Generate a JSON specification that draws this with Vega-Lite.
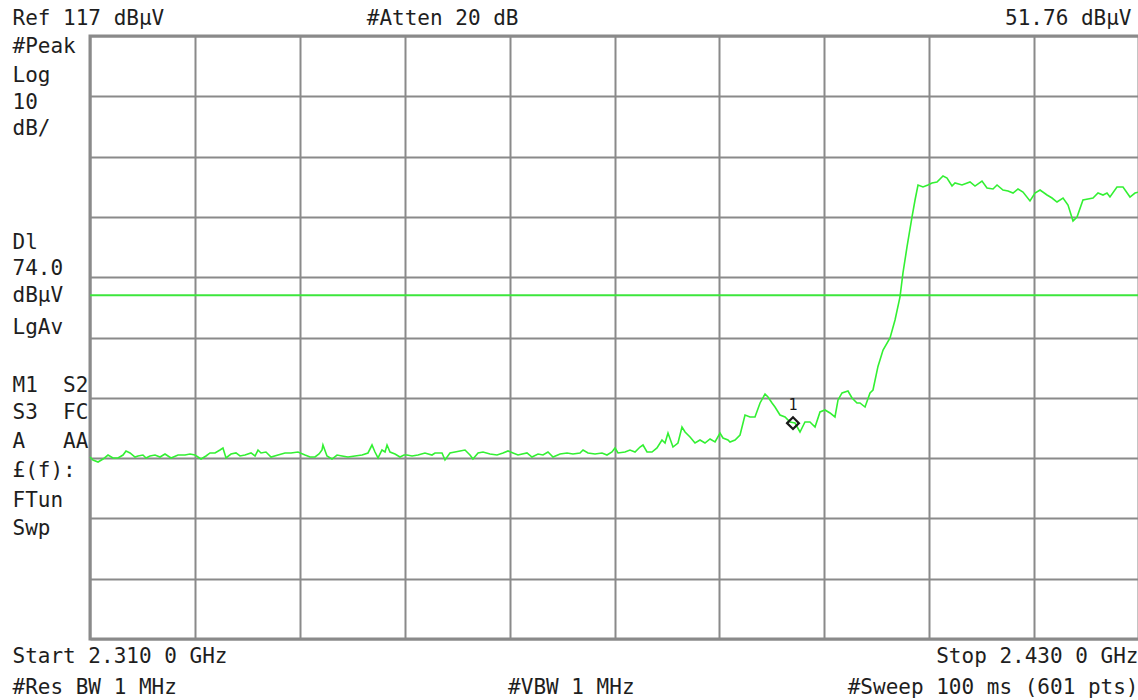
{
  "$schema": "https://vega.github.io/schema/vega-lite/v6.json",
  "width": 1049,
  "height": 603,
  "autosize": {"type": "none"},
  "padding": {"left": 90, "top": 36, "right": 0, "bottom": 61},
  "background": "white",
  "config": {
    "view": {"stroke": "#8a8a8a", "strokeWidth": 3},
    "axis": {"labelFont": "DejaVu Sans Mono", "labelFontSize": 21, "labelColor": "#1e1e1e", "labelLimit": 600}
  },
  "datasets": {
    "trace": [
      {"freq":2310.00,"level":47.18},{"freq":2310.34,"level":46.69},{"freq":2310.92,"level":46.35},{"freq":2311.49,"level":46.85},
      {"freq":2312.06,"level":47.51},{"freq":2312.63,"level":47.02},{"freq":2313.20,"level":47.02},{"freq":2313.78,"level":47.51},
      {"freq":2314.12,"level":48.18},{"freq":2314.58,"level":47.85},{"freq":2315.15,"level":47.18},{"freq":2315.49,"level":47.35},
      {"freq":2316.06,"level":47.51},{"freq":2316.41,"level":47.02},{"freq":2316.86,"level":47.35},{"freq":2317.44,"level":47.51},
      {"freq":2318.01,"level":47.18},{"freq":2318.58,"level":47.68},{"freq":2319.27,"level":47.02},{"freq":2320.07,"level":47.51},
      {"freq":2320.87,"level":47.51},{"freq":2321.44,"level":47.68},{"freq":2322.01,"level":47.51},{"freq":2322.70,"level":46.85},
      {"freq":2323.27,"level":47.35},{"freq":2323.73,"level":47.85},{"freq":2324.30,"level":47.85},{"freq":2324.87,"level":48.34},
      {"freq":2325.21,"level":48.68},{"freq":2325.56,"level":47.02},{"freq":2326.13,"level":47.68},{"freq":2326.70,"level":47.85},
      {"freq":2327.16,"level":47.35},{"freq":2327.73,"level":47.51},{"freq":2328.42,"level":47.85},{"freq":2328.88,"level":47.35},
      {"freq":2329.22,"level":48.34},{"freq":2329.56,"level":47.85},{"freq":2330.13,"level":48.01},{"freq":2330.71,"level":47.18},
      {"freq":2331.51,"level":47.51},{"freq":2332.31,"level":47.85},{"freq":2332.99,"level":47.85},{"freq":2333.79,"level":48.01},
      {"freq":2334.60,"level":47.51},{"freq":2335.17,"level":47.18},{"freq":2335.74,"level":47.18},{"freq":2336.20,"level":47.68},
      {"freq":2336.54,"level":48.34},{"freq":2336.65,"level":49.17},{"freq":2337.11,"level":47.35},{"freq":2337.68,"level":46.85},
      {"freq":2338.26,"level":47.51},{"freq":2338.83,"level":47.35},{"freq":2339.51,"level":47.18},{"freq":2340.31,"level":47.35},
      {"freq":2341.12,"level":47.51},{"freq":2341.80,"level":47.85},{"freq":2342.26,"level":49.17},{"freq":2342.60,"level":48.01},
      {"freq":2342.95,"level":47.02},{"freq":2343.40,"level":48.34},{"freq":2343.75,"level":48.01},{"freq":2343.98,"level":49.17},
      {"freq":2344.32,"level":48.01},{"freq":2344.89,"level":47.68},{"freq":2345.46,"level":47.18},{"freq":2345.92,"level":47.51},
      {"freq":2346.26,"level":47.51},{"freq":2346.84,"level":47.35},{"freq":2347.52,"level":47.51},{"freq":2348.32,"level":47.85},
      {"freq":2349.12,"level":47.51},{"freq":2349.47,"level":47.85},{"freq":2350.27,"level":47.85},{"freq":2350.61,"level":46.69},
      {"freq":2351.18,"level":47.85},{"freq":2351.75,"level":48.01},{"freq":2352.33,"level":48.18},{"freq":2352.90,"level":48.34},
      {"freq":2353.47,"level":47.51},{"freq":2353.81,"level":46.85},{"freq":2354.39,"level":47.85},{"freq":2354.96,"level":48.01},
      {"freq":2355.76,"level":47.68},{"freq":2356.56,"level":47.51},{"freq":2357.25,"level":47.85},{"freq":2357.82,"level":48.18},
      {"freq":2358.39,"level":47.85},{"freq":2358.96,"level":47.51},{"freq":2359.99,"level":47.85},{"freq":2360.56,"level":47.18},
      {"freq":2361.25,"level":47.68},{"freq":2361.82,"level":47.51},{"freq":2362.39,"level":48.01},{"freq":2362.97,"level":47.18},
      {"freq":2363.77,"level":47.68},{"freq":2364.57,"level":47.85},{"freq":2365.25,"level":47.68},{"freq":2366.05,"level":47.85},
      {"freq":2366.40,"level":48.34},{"freq":2366.97,"level":47.85},{"freq":2367.77,"level":47.68},{"freq":2368.57,"level":47.85},
      {"freq":2369.14,"level":47.51},{"freq":2369.71,"level":48.01},{"freq":2370.06,"level":48.68},{"freq":2370.40,"level":47.85},
      {"freq":2371.20,"level":48.01},{"freq":2371.77,"level":48.34},{"freq":2372.35,"level":48.01},{"freq":2372.92,"level":48.84},
      {"freq":2373.26,"level":49.17},{"freq":2373.72,"level":48.01},{"freq":2374.29,"level":48.01},{"freq":2374.86,"level":48.68},
      {"freq":2375.43,"level":50.00},{"freq":2375.78,"level":49.50},{"freq":2376.12,"level":51.16},{"freq":2376.69,"level":48.84},
      {"freq":2377.26,"level":49.50},{"freq":2377.72,"level":52.16},{"freq":2378.07,"level":51.33},{"freq":2378.64,"level":50.50},
      {"freq":2379.21,"level":49.50},{"freq":2379.78,"level":50.00},{"freq":2380.35,"level":49.50},{"freq":2380.93,"level":50.17},
      {"freq":2381.50,"level":49.67},{"freq":2382.07,"level":51.16},{"freq":2382.41,"level":50.33},{"freq":2382.98,"level":50.00},
      {"freq":2383.21,"level":49.67},{"freq":2383.79,"level":50.00},{"freq":2384.36,"level":50.83},{"freq":2384.93,"level":54.15},
      {"freq":2385.50,"level":53.82},{"freq":2386.07,"level":53.82},{"freq":2386.65,"level":56.14},{"freq":2387.22,"level":57.63},
      {"freq":2387.56,"level":57.13},{"freq":2388.02,"level":56.14},{"freq":2388.36,"level":55.47},{"freq":2388.93,"level":54.15},
      {"freq":2389.51,"level":53.82},{"freq":2390.08,"level":52.99},{"freq":2390.65,"level":52.82},{"freq":2391.22,"level":51.33},
      {"freq":2391.79,"level":52.99},{"freq":2392.36,"level":52.99},{"freq":2392.94,"level":52.16},{"freq":2393.51,"level":54.65},
      {"freq":2394.08,"level":54.98},{"freq":2394.65,"level":54.48},{"freq":2395.22,"level":53.82},{"freq":2395.57,"level":56.64},
      {"freq":2396.03,"level":57.80},{"freq":2396.71,"level":58.13},{"freq":2397.17,"level":56.97},{"freq":2397.74,"level":56.14},
      {"freq":2398.08,"level":56.14},{"freq":2398.66,"level":55.47},{"freq":2399.23,"level":57.80},{"freq":2399.57,"level":58.29},
      {"freq":2400.14,"level":62.20},{"freq":2400.72,"level":64.93},{"freq":2401.52,"level":66.92},{"freq":2402.09,"level":69.90},
      {"freq":2402.66,"level":73.72},{"freq":2403.00,"level":77.70},{"freq":2403.46,"level":82.01},{"freq":2404.03,"level":86.98},
      {"freq":2404.38,"level":89.80},{"freq":2404.72,"level":92.29},{"freq":2405.29,"level":91.96},{"freq":2405.86,"level":92.29},
      {"freq":2406.32,"level":92.62},{"freq":2406.89,"level":92.79},{"freq":2407.58,"level":93.78},{"freq":2408.04,"level":93.45},
      {"freq":2408.61,"level":92.12},{"freq":2408.95,"level":92.62},{"freq":2409.75,"level":92.29},{"freq":2410.67,"level":92.79},
      {"freq":2411.24,"level":92.12},{"freq":2412.04,"level":92.95},{"freq":2412.61,"level":91.79},{"freq":2413.30,"level":91.63},
      {"freq":2413.76,"level":92.29},{"freq":2414.44,"level":91.46},{"freq":2415.02,"level":91.30},{"freq":2415.59,"level":90.96},
      {"freq":2416.16,"level":91.63},{"freq":2416.73,"level":91.13},{"freq":2417.53,"level":89.64},{"freq":2418.10,"level":90.96},
      {"freq":2418.68,"level":91.46},{"freq":2419.48,"level":90.63},{"freq":2420.05,"level":90.13},{"freq":2420.62,"level":89.47},
      {"freq":2421.31,"level":90.13},{"freq":2421.88,"level":88.97},{"freq":2422.45,"level":86.32},{"freq":2422.91,"level":86.98},
      {"freq":2423.59,"level":89.80},{"freq":2424.17,"level":89.97},{"freq":2424.74,"level":90.13},{"freq":2425.31,"level":90.96},
      {"freq":2425.88,"level":90.63},{"freq":2426.34,"level":90.96},{"freq":2426.68,"level":90.30},{"freq":2427.48,"level":91.96},
      {"freq":2428.17,"level":91.96},{"freq":2428.97,"level":90.30},{"freq":2429.54,"level":90.96},{"freq":2430.00,"level":91.13}
    ],
    "displayLine": [{"level": 74.0}],
    "marker": [{"freq": 2390.42, "level": 52.8, "label": "1"}]
  },
  "layer": [
    {
      "data": {"name": "trace"},
      "mark": {"type": "line", "color": "#33f033", "strokeWidth": 1.6, "interpolate": "linear"},
      "encoding": {
        "x": {
          "field": "freq", "type": "quantitative",
          "scale": {"domain": [2310, 2430], "nice": false, "zero": false},
          "axis": {
            "orient": "bottom",
            "values": [2310, 2322, 2334, 2346, 2358, 2370, 2382, 2394, 2406, 2418, 2430],
            "grid": true, "gridColor": "#8a8a8a", "gridWidth": 2, "gridOpacity": 1,
            "ticks": false, "tickSize": 0, "domain": false, "title": null,
            "labelFlush": false, "labelOverlap": false, "labelBound": false, "labelLimit": 600,
            "labelBaseline": "top", "labelPadding": 6, "labelLineHeight": 31,
            "labelAlign": {"condition": {"test": "datum.value == 2430", "value": "right"}, "value": "left"},
            "labelOffset": {"condition": [{"test": "datum.value == 2310", "value": -78}, {"test": "datum.value == 2358", "value": -2}], "value": -1},
            "labelExpr": "datum.value == 2310 ? ['Start 2.310 0 GHz', '#Res BW 1 MHz'] : datum.value == 2358 ? ['', '#VBW 1 MHz'] : datum.value == 2430 ? ['Stop 2.430 0 GHz', '#Sweep 100 ms (601 pts)'] : ''"
          }
        },
        "y": {
          "field": "level", "type": "quantitative",
          "scale": {"domain": [17, 117], "nice": false, "zero": false},
          "axis": {
            "orient": "left",
            "values": [115.2, 110.5, 106.0, 101.7, 82.7, 78.4, 73.9, 68.6, 59.0, 54.6, 49.7, 45.0, 40.0, 35.4],
            "grid": false, "ticks": false, "tickSize": 0, "domain": false, "title": null,
            "labelOverlap": false, "labelBound": false, "labelFlush": false,
            "labelAlign": "left", "labelBaseline": "middle", "labelPadding": 78,
            "labelExpr": "datum.value > 113 ? '#Peak' : datum.value > 108 ? 'Log' : datum.value > 104 ? '10' : datum.value > 90 ? 'dB/' : datum.value > 80 ? 'Dl' : datum.value > 76 ? '74.0' : datum.value > 71 ? 'dBµV' : datum.value > 64 ? 'LgAv' : datum.value > 57 ? 'M1\u00a0\u00a0S2' : datum.value > 52 ? 'S3\u00a0\u00a0FC' : datum.value > 47 ? 'A\u00a0\u00a0\u00a0AA' : datum.value > 42 ? '£(f):' : datum.value > 38 ? 'FTun' : 'Swp'"
          }
        }
      }
    },
    {
      "data": {"name": "displayLine"},
      "mark": {"type": "rule", "color": "#3ce63c", "strokeWidth": 2},
      "encoding": {
        "y": {
          "field": "level", "type": "quantitative",
          "axis": {
            "orient": "right",
            "values": [17, 27, 37, 47, 57, 67, 77, 87, 97, 107, 117],
            "grid": true, "gridColor": "#8a8a8a", "gridWidth": 2, "gridOpacity": 1,
            "labels": false, "ticks": false, "domain": false, "title": null
          }
        }
      }
    },
    {
      "data": {"name": "marker"},
      "mark": {"type": "point", "shape": "diamond", "filled": false, "stroke": "#1a1a1a", "strokeWidth": 2.2, "size": 140, "opacity": 1},
      "encoding": {
        "x": {
          "field": "freq", "type": "quantitative",
          "axis": {
            "orient": "top",
            "values": [2310, 2341.6, 2430],
            "grid": false, "ticks": false, "tickSize": 0, "domain": false, "title": null,
            "labelFlush": false, "labelOverlap": false, "labelBound": false, "labelLimit": 600,
            "labelBaseline": "middle", "labelPadding": 18,
            "labelAlign": {"condition": {"test": "datum.value == 2430", "value": "right"}, "value": "left"},
            "labelOffset": {"condition": [{"test": "datum.value == 2310", "value": -78}, {"test": "datum.value == 2430", "value": -8}], "value": 0},
            "labelExpr": "datum.value == 2310 ? 'Ref 117 dBµV' : datum.value == 2430 ? '51.76 dBµV' : '#Atten 20 dB'"
          }
        },
        "y": {"field": "level", "type": "quantitative", "axis": null}
      }
    },
    {
      "data": {"name": "marker"},
      "mark": {"type": "text", "font": "DejaVu Sans Mono", "fontSize": 15, "color": "#1a1a1a", "dy": -18, "align": "center", "baseline": "middle"},
      "encoding": {
        "x": {"field": "freq", "type": "quantitative", "axis": null},
        "y": {"field": "level", "type": "quantitative", "axis": null},
        "text": {"field": "label"}
      }
    }
  ],
  "resolve": {"axis": {"x": "independent", "y": "independent"}}
}
